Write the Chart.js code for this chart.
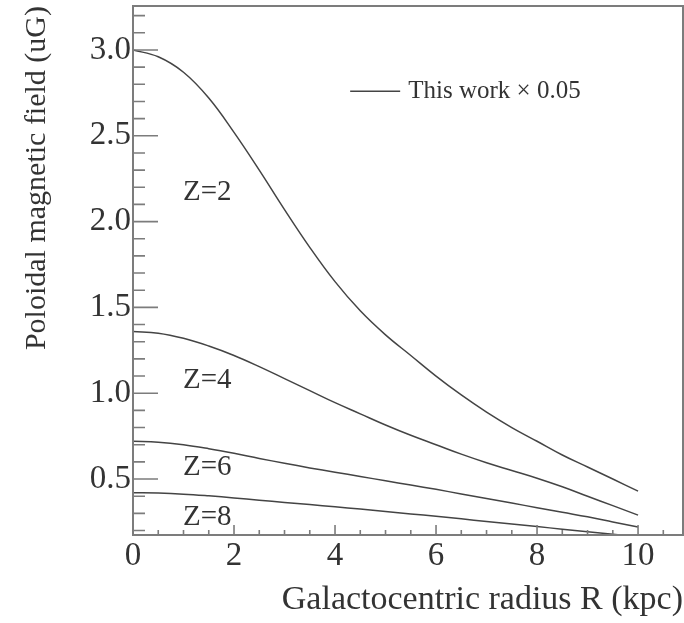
<!DOCTYPE html>
<html>
<head>
<meta charset="utf-8">
<script src="https://cdn.jsdelivr.net/npm/chart.js@4.4.1/dist/chart.umd.min.js"></script>
<style>
  html, body { margin: 0; padding: 0; background: #fff; }
  canvas { display: block; }
</style>
</head>
<body>
<canvas id="fieldChart" width="684" height="623"></canvas>
<script>
// galactocentric radius R (kpc)
const radius = [0, 0.5, 1, 1.5, 2, 2.5, 3, 3.5, 4, 4.5, 5, 5.5, 6, 6.5, 7, 7.5, 8, 8.5, 9, 9.5, 10];

// poloidal field (uG) at heights Z = 2, 4, 6, 8
const fieldZ2 = [3.00, 2.96, 2.87, 2.72, 2.52, 2.30, 2.07, 1.85, 1.65, 1.48, 1.34, 1.22, 1.10, 0.99, 0.89, 0.80, 0.72, 0.64, 0.57, 0.50, 0.43];
const fieldZ4 = [1.36, 1.35, 1.32, 1.275, 1.22, 1.155, 1.085, 1.015, 0.945, 0.88, 0.815, 0.755, 0.70, 0.645, 0.595, 0.55, 0.505, 0.455, 0.40, 0.345, 0.29];
const fieldZ6 = [0.72, 0.715, 0.70, 0.677, 0.65, 0.62, 0.592, 0.565, 0.54, 0.515, 0.49, 0.465, 0.44, 0.413, 0.386, 0.36, 0.333, 0.306, 0.28, 0.25, 0.22];
const fieldZ8 = [0.42, 0.418, 0.412, 0.402, 0.39, 0.377, 0.364, 0.351, 0.338, 0.325, 0.311, 0.297, 0.283, 0.268, 0.253, 0.238, 0.223, 0.208, 0.193, 0.178, 0.163];

const seriesNames = ["Z=2", "Z=4", "Z=6", "Z=8"];
const legendText = "This work \u00d7 0.05";

const xTickLabels = [0, 2, 4, 6, 8, 10];
const yTickLabels = [0.5, 1.0, 1.5, 2.0, 2.5, 3.0];

const serif = "'Liberation Serif', 'DejaVu Serif', serif";
const inkColor = '#333';
const lineColor = '#444';
const frameColor = '#7c7c7c';

function toPoints(values) {
  return radius.map((r, i) => ({x: r, y: values[i]}));
}

// box frame with inward ticks, ROOT style
const frameTicks = {
  id: 'frameTicks',
  afterDatasetsDraw(chart) {
    const {ctx, chartArea: a, scales: {x, y}} = chart;
    ctx.save();
    ctx.strokeStyle = frameColor;
    ctx.lineWidth = 2;
    ctx.strokeRect(a.left, a.top, a.right - a.left, a.bottom - a.top);

    ctx.lineWidth = 1.6;
    ctx.beginPath();
    for (let i = 2; i <= 32; i++) {
      const py = y.getPixelForValue(i / 10);
      const len = i % 5 === 0 ? 25 : 12;
      ctx.moveTo(a.left, py);
      ctx.lineTo(a.left + len, py);
    }
    for (let i = 1; i <= 21; i++) {
      const px = x.getPixelForValue(i / 2);
      const len = i % 4 === 0 ? 10 : 5;
      ctx.moveTo(px, a.bottom);
      ctx.lineTo(px, a.bottom - len);
    }
    ctx.stroke();
    ctx.restore();
  }
};

// curve labels and the single legend entry inside the frame
const annotations = {
  id: 'annotations',
  afterDraw(chart) {
    const {ctx, scales: {x, y}} = chart;
    ctx.save();
    ctx.fillStyle = inkColor;
    ctx.font = "29px " + serif;
    ctx.textAlign = 'center';
    ctx.textBaseline = 'middle';
    const labelY = [2.17, 1.075, 0.57, 0.278];
    seriesNames.forEach((name, i) => {
      ctx.fillText(name, x.getPixelForValue(1.47), y.getPixelForValue(labelY[i]));
    });

    const ly = y.getPixelForValue(2.76);
    ctx.strokeStyle = lineColor;
    ctx.lineWidth = 1.5;
    ctx.beginPath();
    ctx.moveTo(x.getPixelForValue(4.3), ly);
    ctx.lineTo(x.getPixelForValue(5.29), ly);
    ctx.stroke();

    ctx.font = "25px " + serif;
    ctx.textAlign = 'left';
    ctx.fillText(legendText, x.getPixelForValue(5.45), ly);
    ctx.restore();
  }
};

const datasets = [fieldZ2, fieldZ4, fieldZ6, fieldZ8].map((values, i) => ({
  label: seriesNames[i],
  data: toPoints(values),
  borderColor: lineColor,
  borderWidth: 1.5,
  pointRadius: 0,
  fill: false,
  tension: 0.4
}));

new Chart(document.getElementById('fieldChart'), {
  type: 'line',
  data: {datasets: datasets},
  options: {
    responsive: false,
    animation: false,
    layout: {padding: {top: 6, right: 1, left: 0, bottom: 0}},
    plugins: {
      legend: {display: false},
      tooltip: {enabled: false}
    },
    scales: {
      x: {
        type: 'linear',
        min: 0,
        max: 10.89,
        grid: {display: false, drawTicks: false},
        border: {display: false},
        afterBuildTicks: s => { s.ticks = xTickLabels.map(v => ({value: v})); },
        afterFit: s => { s.height = 88; s.paddingLeft = 0; s.paddingRight = 0; },
        ticks: {
          autoSkip: false,
          maxRotation: 0,
          padding: 2,
          color: inkColor,
          font: {family: serif, size: 33},
          callback: v => String(v)
        },
        title: {
          display: true,
          text: 'Galactocentric radius R (kpc)',
          align: 'end',
          color: inkColor,
          font: {family: serif, size: 34},
          padding: 3
        }
      },
      y: {
        min: 0.174,
        max: 3.256,
        grid: {display: false, drawTicks: false},
        border: {display: false},
        afterBuildTicks: s => { s.ticks = yTickLabels.map(v => ({value: v})); },
        afterFit: s => { s.width = 133; s.paddingTop = 0; s.paddingBottom = 0; },
        ticks: {
          autoSkip: false,
          padding: 2,
          color: inkColor,
          font: {family: serif, size: 33},
          callback: v => v.toFixed(1)
        },
        title: {
          display: true,
          text: 'Poloidal magnetic field (uG)',
          align: 'end',
          color: inkColor,
          font: {family: serif, size: 30},
          padding: 19
        }
      }
    }
  },
  plugins: [frameTicks, annotations]
});
</script>
</body>
</html>
